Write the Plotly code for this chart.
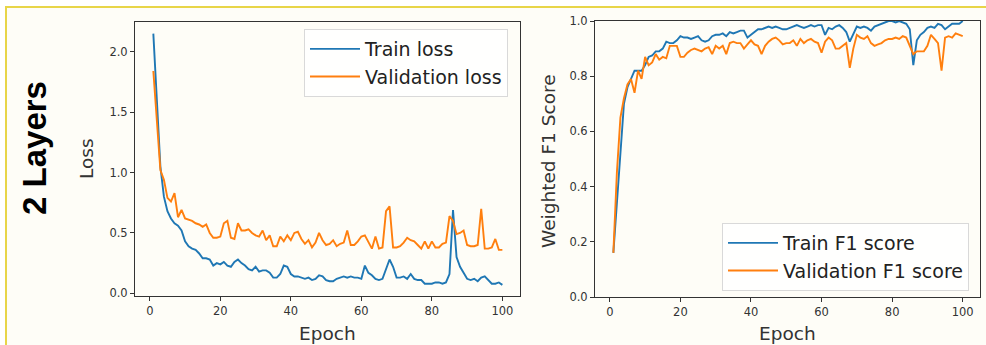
import plotly.graph_objects as go

epochs = list(range(1, 101))

train_loss = [2.15, 1.6, 1.05, 0.8, 0.68, 0.62, 0.58, 0.56, 0.52, 0.43,
              0.39, 0.37, 0.36, 0.33, 0.29, 0.29, 0.28, 0.23, 0.25, 0.24,
              0.26, 0.23, 0.22, 0.26, 0.28, 0.25, 0.23, 0.20, 0.19, 0.22,
              0.18, 0.19, 0.19, 0.17, 0.13, 0.13, 0.16, 0.23, 0.22, 0.16,
              0.14, 0.14, 0.13, 0.12, 0.13, 0.11, 0.12, 0.15, 0.14, 0.11,
              0.10, 0.10, 0.12, 0.13, 0.14, 0.13, 0.14, 0.13, 0.13, 0.12,
              0.23, 0.17, 0.15, 0.12, 0.11, 0.12, 0.20, 0.28, 0.22, 0.13,
              0.13, 0.14, 0.12, 0.16, 0.12, 0.11, 0.11, 0.08, 0.08, 0.08,
              0.09, 0.09, 0.08, 0.09, 0.16, 0.69, 0.30, 0.22, 0.17, 0.12,
              0.11, 0.12, 0.10, 0.13, 0.14, 0.11, 0.08, 0.08, 0.09, 0.07]

val_loss = [1.84, 1.40, 1.02, 0.94, 0.79, 0.76, 0.83, 0.63, 0.69, 0.62,
            0.61, 0.60, 0.58, 0.57, 0.55, 0.57, 0.50, 0.46, 0.46, 0.47,
            0.58, 0.60, 0.46, 0.45, 0.58, 0.52, 0.52, 0.53, 0.50, 0.48,
            0.47, 0.52, 0.44, 0.48, 0.39, 0.39, 0.47, 0.43, 0.48, 0.44,
            0.50, 0.51, 0.45, 0.41, 0.44, 0.38, 0.42, 0.50, 0.44, 0.40,
            0.41, 0.44, 0.39, 0.41, 0.42, 0.52, 0.40, 0.40, 0.43, 0.47,
            0.48, 0.43, 0.37, 0.47, 0.37, 0.38, 0.68, 0.72, 0.38, 0.38,
            0.39, 0.42, 0.46, 0.44, 0.43, 0.40, 0.37, 0.43, 0.37, 0.43,
            0.38, 0.38, 0.41, 0.42, 0.64, 0.60, 0.49, 0.50, 0.52, 0.40,
            0.39, 0.39, 0.40, 0.70, 0.37, 0.37, 0.38, 0.45, 0.36, 0.36]

train_f1 = [0.16, 0.33, 0.52, 0.70, 0.76, 0.79, 0.82, 0.82, 0.82, 0.84,
            0.87, 0.875, 0.89, 0.89, 0.90, 0.925, 0.92, 0.92, 0.93, 0.945,
            0.94, 0.94, 0.935, 0.94, 0.945, 0.93, 0.925, 0.93, 0.945, 0.95,
            0.95, 0.955, 0.945, 0.96, 0.955, 0.96, 0.965, 0.965, 0.94, 0.95,
            0.96, 0.97, 0.97, 0.975, 0.98, 0.975, 0.98, 0.975, 0.97, 0.97,
            0.975, 0.98, 0.985, 0.98, 0.975, 0.98, 0.985, 0.98, 0.985, 0.985,
            0.95, 0.975, 0.97, 0.98, 0.985, 0.975, 0.96, 0.925, 0.95, 0.98,
            0.975, 0.98, 0.975, 0.965, 0.98, 0.985, 0.99, 0.995, 1.0, 1.0,
            0.995, 1.0, 0.995, 0.99, 0.97, 0.84, 0.93, 0.95, 0.96, 0.975,
            0.98, 0.975, 0.99, 0.985, 0.97, 0.98, 0.99, 0.99, 0.99, 1.0]

val_f1 = [0.16, 0.45, 0.65, 0.72, 0.77, 0.79, 0.74, 0.82, 0.79, 0.87,
          0.84, 0.85, 0.88, 0.86, 0.87, 0.865, 0.91, 0.91, 0.91, 0.87,
          0.87, 0.885, 0.895, 0.90, 0.895, 0.89, 0.90, 0.905, 0.88, 0.91,
          0.90, 0.91, 0.88, 0.92, 0.925, 0.92, 0.92, 0.90, 0.915, 0.93,
          0.915, 0.91, 0.88, 0.91, 0.925, 0.935, 0.94, 0.93, 0.915, 0.92,
          0.92, 0.93, 0.91, 0.935, 0.92, 0.93, 0.935, 0.925, 0.92, 0.885,
          0.925, 0.94, 0.93, 0.90, 0.90, 0.91, 0.92, 0.83, 0.90, 0.95,
          0.94, 0.935, 0.945, 0.92, 0.91, 0.915, 0.92, 0.93, 0.935, 0.935,
          0.94, 0.935, 0.945, 0.94, 0.91, 0.88, 0.89, 0.89, 0.89, 0.91,
          0.95, 0.935, 0.92, 0.82, 0.94, 0.945, 0.94, 0.955, 0.95, 0.945]

x_ticks = [0, 20, 40, 60, 80, 100]
loss_ticks = [0.0, 0.5, 1.0, 1.5, 2.0]
f1_ticks = [0.0, 0.2, 0.4, 0.6, 0.8, 1.0]

BLUE = "#1f77b4"
ORANGE = "#ff7f0e"
FONT = "DejaVu Sans"
W, H = 986, 345

def px_x(p):
    return p / W

def px_y(p):
    return 1 - p / H

fig = go.Figure()
fig.add_trace(go.Scatter(x=epochs, y=train_loss, mode="lines", name="Train loss",
                         line=dict(color=BLUE, width=1.9), xaxis="x", yaxis="y",
                         legend="legend", legendgroup="a"))
fig.add_trace(go.Scatter(x=epochs, y=val_loss, mode="lines", name="Validation loss",
                         line=dict(color=ORANGE, width=1.9), xaxis="x", yaxis="y",
                         legend="legend", legendgroup="b"))
fig.add_trace(go.Scatter(x=epochs, y=train_f1, mode="lines", name="Train F1 score",
                         line=dict(color=BLUE, width=1.9), xaxis="x2", yaxis="y2",
                         legend="legend2", legendgroup="c"))
fig.add_trace(go.Scatter(x=epochs, y=val_f1, mode="lines", name="Validation F1 score",
                         line=dict(color=ORANGE, width=1.9), xaxis="x2", yaxis="y2",
                         legend="legend2", legendgroup="d"))

axis_common = dict(showline=True, linecolor="#333333", linewidth=1, mirror=True,
                   ticks="outside", ticklen=4, tickcolor="#333333", showgrid=False,
                   zeroline=False, automargin=False,
                   tickfont=dict(family=FONT, size=11.5, color="#333333"))

legend_common = dict(xanchor="left", yanchor="top",
                     font=dict(family=FONT, size=19, color="#222222"),
                     bgcolor="rgba(255,255,255,0.8)", bordercolor="#d9d9d9", borderwidth=1,
                     traceorder="grouped", tracegroupgap=0, itemwidth=50)

fig.update_layout(
    width=W, height=H, margin=dict(l=0, r=0, t=0, b=0, autoexpand=False),
    paper_bgcolor="white", plot_bgcolor="rgba(0,0,0,0)",
    showlegend=True,
    xaxis=dict(domain=[px_x(135), px_x(520)], range=[-4.2, 105.0], tickvals=x_ticks,
               anchor="y", **axis_common),
    yaxis=dict(domain=[px_y(296), px_y(22)], range=[-0.022, 2.246], tickvals=loss_ticks,
               tickformat=".1f", anchor="x", **axis_common),
    xaxis2=dict(domain=[px_x(595), px_x(980)], range=[-4.2, 104.9], tickvals=x_ticks,
                anchor="y2", **axis_common),
    yaxis2=dict(domain=[px_y(297), px_y(21)], range=[0.0, 1.0], tickvals=f1_ticks,
                tickformat=".1f", anchor="x2", **axis_common),
    legend=dict(x=px_x(304), y=px_y(29), **legend_common),
    legend2=dict(x=px_x(722), y=px_y(223), **legend_common),
)

# cream panel with yellow border
fig.add_shape(type="rect", xref="paper", yref="paper",
              x0=px_x(6), x1=px_x(995), y0=px_y(360), y1=px_y(7),
              fillcolor="#fefdf7", line=dict(color="#e8d548", width=2), layer="below")

ann = [
    dict(text="2 Layers", x=px_x(34), y=px_y(148), textangle=-90,
         font=dict(family="Liberation Sans", size=33, color="black", weight="bold")),
    dict(text="Loss", x=px_x(86), y=px_y(159), textangle=-90,
         font=dict(family=FONT, size=18.5, color="#333333")),
    dict(text="Epoch", x=px_x(327.5), y=px_y(333), textangle=0,
         font=dict(family=FONT, size=18.5, color="#333333")),
    dict(text="Weighted F1 Score", x=px_x(548), y=px_y(161), textangle=-90,
         font=dict(family=FONT, size=18.5, color="#333333")),
    dict(text="Epoch", x=px_x(787.5), y=px_y(333), textangle=0,
         font=dict(family=FONT, size=18.5, color="#333333")),
]
for a in ann:
    fig.add_annotation(xref="paper", yref="paper", showarrow=False,
                       xanchor="center", yanchor="middle", **a)

fig.write_html("out.html")
